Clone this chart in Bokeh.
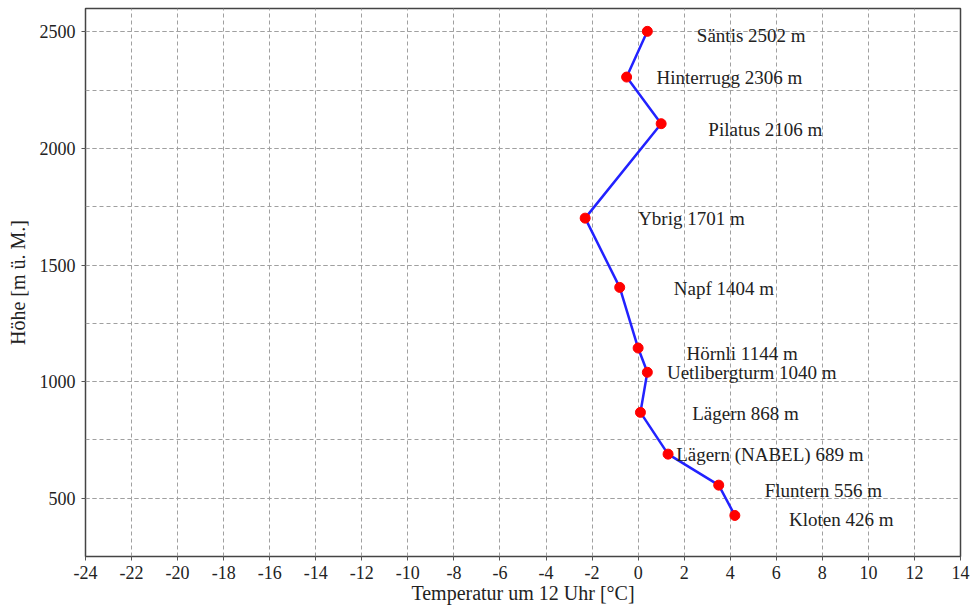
from bokeh.plotting import figure
from bokeh.models import Range1d, SingleIntervalTicker, ColumnDataSource, NumeralTickFormatter
from bokeh.core.properties import value
from bokeh.embed import file_html
from bokeh.resources import INLINE

stations = ["Säntis 2502 m", "Hinterrugg 2306 m", "Pilatus 2106 m", "Ybrig 1701 m",
            "Napf 1404 m", "Hörnli 1144 m", "Uetlibergturm 1040 m", "Lägern 868 m",
            "Lägern (NABEL) 689 m", "Fluntern 556 m", "Kloten 426 m"]
altitude = [2502, 2306, 2106, 1701, 1404, 1144, 1040, 868, 689, 556, 426]
temperature = [0.4, -0.5, 1.0, -2.3, -0.8, 0.0, 0.4, 0.1, 1.3, 3.5, 4.2]
label_x = [2.55, 0.8, 3.05, 0.0, 1.55, 2.1, 1.25, 2.35, 1.65, 5.5, 6.55]
label_y = [2484, 2304, 2082, 1699, 1399, 1120, 1038, 863, 687, 532, 408]

FONT = "Liberation Serif"

p = figure(width=972, height=610, output_backend="svg", toolbar_location=None,
           x_range=Range1d(-24, 14), y_range=Range1d(250, 2600),
           min_border_left=85, min_border_right=12, min_border_top=8, min_border_bottom=54)

p.xaxis.ticker = SingleIntervalTicker(interval=2, num_minor_ticks=0)
p.yaxis.ticker = SingleIntervalTicker(interval=500, num_minor_ticks=2)
p.xaxis.formatter = NumeralTickFormatter(format="0")
p.yaxis.formatter = NumeralTickFormatter(format="0")

for ax in (p.xaxis, p.yaxis):
    ax.major_label_text_font = FONT
    ax.major_label_text_font_size = "18px"
    ax.major_label_text_color = "#222222"
    ax.axis_label_text_font = FONT
    ax.axis_label_text_font_size = "20px"
    ax.axis_label_text_font_style = "normal"
    ax.axis_label_text_color = "#222222"
    ax.axis_line_color = None
    ax.major_tick_line_color = "#555555"
    ax.major_tick_out = 4
    ax.major_tick_in = 0
    ax.minor_tick_line_color = None

p.xaxis.axis_label = "Temperatur um 12 Uhr [°C]"
p.yaxis.axis_label = "Höhe [m ü. M.]"
p.xaxis.major_label_standoff = 5
p.xaxis.axis_label_standoff = 0
p.yaxis.major_label_standoff = 6
p.yaxis.axis_label_standoff = 8

p.outline_line_color = "#444444"
p.outline_line_width = 1.5

p.xgrid.grid_line_color = "#a0a0a0"
p.xgrid.grid_line_dash = "4 3"
p.xgrid.grid_line_width = 1
p.ygrid.grid_line_color = "#a0a0a0"
p.ygrid.grid_line_dash = "4 3"
p.ygrid.minor_grid_line_color = "#a0a0a0"
p.ygrid.minor_grid_line_dash = "4 3"

src = ColumnDataSource(dict(t=temperature, h=altitude))
p.line("t", "h", source=src, line_color="#2222ff", line_width=2.5)
p.scatter("t", "h", source=src, size=10, fill_color="#ff0000", line_color="#ff0000")

lsrc = ColumnDataSource(dict(x=label_x, y=label_y, txt=stations))
p.text("x", "y", text="txt", source=lsrc, text_font=value(FONT), text_font_size="19px",
       text_align="left", text_baseline="middle", text_color="#222222")

open("out.html", "w").write(file_html(p, INLINE))
